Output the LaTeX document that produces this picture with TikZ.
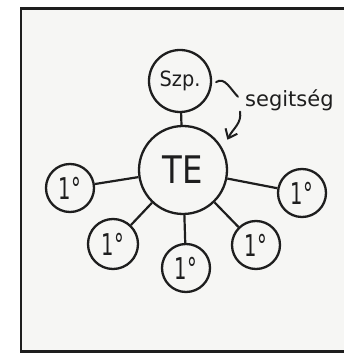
\documentclass[tikz,border=0pt]{standalone}
\usepackage{fontspec}
\usepackage{graphicx}
\setmainfont{DejaVu Sans}
\usetikzlibrary{arrows.meta}
\definecolor{ink}{HTML}{1E1E1E}
\definecolor{paper}{HTML}{F6F6F4}
\tikzset{
  bubble/.style={circle, draw=ink, line width=2.3pt, inner sep=0pt, text=ink},
  big/.style={bubble, minimum size=88pt, font=\fontsize{38}{40}\selectfont},
  mid/.style={bubble, minimum size=62pt, font=\fontsize{21}{23}\selectfont},
  small/.style={bubble, minimum size=48pt, font=\fontsize{30}{32}\selectfont},
  link/.style={draw=ink, line width=2.2pt},
  helparrow/.style={draw=ink, line width=2pt, line cap=round},
}
\newcommand{\onedeg}{\scalebox{0.65}[1]{1°}}
\begin{document}
\begin{tikzpicture}[x=1pt,y=1pt]
\useasboundingbox (0,0) rectangle (344,353);
\fill[white] (0,0) rectangle (344,353);
\fill[paper] (21,1.5) rectangle (344,344.5);
\draw[ink, line width=2.6pt] (344,344.5) -- (21,344.5) -- (21,1.5) -- (344,1.5);

\node[mid] (szp) at (180,272) {\scalebox{0.92}[1]{Szp.}};
\node[big] (te) at (183,183) {\scalebox{0.85}[1]{TE}};
\node[small] (l1) at (70,165) {\onedeg};
\node[small] (r1) at (302,160) {\onedeg};
\node[small, minimum size=50pt] (bl) at (113,109) {\onedeg};
\node[small] (bc) at (186,85) {\onedeg};
\node[small] (br) at (256,108) {\onedeg};

\node[anchor=base west, inner sep=0pt, text=ink, font=\fontsize{21}{23}\selectfont] (lbl) at (245,246) {segitség};

\draw[link] (szp) -- (te);
\draw[link] (te) -- (l1);
\draw[link] (te) -- (r1);
\draw[link] (te) -- (bl);
\draw[link] (te) -- (bc);
\draw[link] (te) -- (br);

\draw[helparrow] ([xshift=4pt]szp.-2) to[out=35,in=135] ([xshift=-7pt,yshift=4pt]lbl.west);
\draw[helparrow, -{Straight Barb[length=8pt,width=13pt]}] ([xshift=-5pt]lbl.south west) to[out=-80,in=65] ([xshift=7pt,yshift=5pt]te.34);
\end{tikzpicture}
\end{document}
